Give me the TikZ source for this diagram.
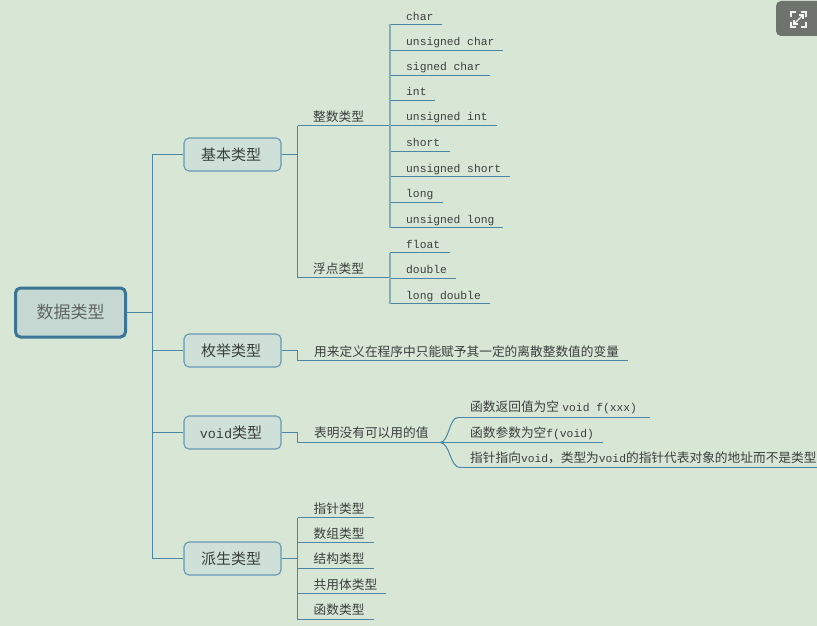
\documentclass[tikz,border=0pt]{standalone}
\usepackage{fontspec}
\setmonofont{Liberation Mono}
\newfontfamily\cjk{Noto Sans CJK SC}
\newcommand{\cn}[1]{{\cjk\fontsize{12.7}{15}\selectfont #1}}
\newcommand{\la}[1]{{\ttfamily\fontsize{11.3}{15}\selectfont #1}}
\definecolor{bgc}{HTML}{D8E6D6}
\definecolor{linec}{HTML}{4A87A6}
\definecolor{trunkc}{HTML}{86AEB5}
\definecolor{boxc}{HTML}{CEE0D7}
\definecolor{rootf}{HTML}{C5D9D2}
\definecolor{rootd}{HTML}{3B7596}
\definecolor{txtc}{HTML}{3A3F3C}
\definecolor{iconc}{HTML}{6E736D}
\tikzset{
  x=1pt,y=-1pt,
  wire/.style={draw=linec,line width=1pt},
  trunk/.style={draw=trunkc,line width=1.8pt},
  label/.style={inner sep=0pt,anchor=base west,text=txtc},
  topic/.style={draw=linec!85,line width=1.1pt,fill=boxc,rounded corners=5pt,minimum width=97pt,minimum height=33pt,inner sep=0pt,text=txtc,font=\cjk\fontsize{15}{18}\selectfont,execute at end node=\kern3pt},
  rootbox/.style={draw=rootd,line width=3pt,fill=rootf,rounded corners=5pt,minimum width=110pt,minimum height=49pt,inner sep=0pt,text=txtc!80,font=\cjk\fontsize{17}{20}\selectfont},
}
% name, start x, rule y, end x, text x, baseline offset, text
\newcommand{\leaf}[7]{%
  \coordinate (#1-a) at (#2,#3);
  \coordinate (#1-b) at (#4,#3);
  \node[label] (#1) at (#5,#3-#6) {#7};
  \draw[wire] (#1-a) -- (#1-b);
}
\begin{document}
\begin{tikzpicture}
\useasboundingbox (0,0) rectangle (817,626);
\fill[bgc] (0,0) rectangle (817,626);

% expand badge
\fill[iconc,rounded corners=5pt] (776,1) rectangle (830,36);
\begin{scope}[draw=white,line width=1.2pt,opacity=.9]
  \draw (791,17) -- (791,12) -- (796,12);
  \draw (801,12) -- (806,12) -- (806,17);
  \draw (806,22) -- (806,27) -- (801,27);
  \draw (796,27) -- (791,27) -- (791,22);
  \draw (794,24) -- (803,15);
  \draw (799,15) -- (803,15) -- (803,19);
  \draw (794,20) -- (794,24) -- (798,24);
\end{scope}

% main nodes
\node[rootbox,execute at end node={}] (root) at (70.5,312.5) {数据类型};
\node[topic] (basic) at (232.5,154.5) {基本类型};
\node[topic] (enum) at (232.5,350.5) {枚举类型};
\node[topic] (void) at (232.5,432.5) {{\ttfamily\fontsize{13.5}{18}\selectfont void}类型};
\node[topic] (derived) at (232.5,558.5) {派生类型};

% root connectors
\coordinate (bus) at (152.5,312.5);
\draw[wire] (root.east) -- (bus);
\draw[wire] (basic.west) -| (bus);
\draw[wire] (enum.west) -| (bus);
\draw[wire] (void.west) -| (bus);
\draw[wire] (derived.west) -| (bus);

% basic type
\coordinate (bj) at (297.5,154.5);
\draw[wire] (basic.east) -- (bj);
\leaf{int-t}{297.5}{125.5}{390}{313}{3.8}{\cn{整数类型}}
\leaf{flt-t}{297.5}{277.5}{390}{313}{3.8}{\cn{浮点类型}}
\draw[wire] (int-t-a) -- (flt-t-a);

\leaf{l1}{390}{24.5}{442}{406}{4.2}{\la{char}}
\leaf{l2}{390}{50.5}{503}{406}{5}{\la{unsigned char}}
\leaf{l3}{390}{75.5}{490}{406}{4.7}{\la{signed char}}
\leaf{l4}{390}{100.5}{435}{406}{4.7}{\la{int}}
\leaf{l5}{390}{125.5}{497}{406}{4.5}{\la{unsigned int}}
\leaf{l6}{390}{151.5}{450}{406}{4.7}{\la{short}}
\leaf{l7}{390}{176.5}{510}{406}{4.3}{\la{unsigned short}}
\leaf{l8}{390}{202.5}{443}{406}{4.7}{\la{long}}
\leaf{l9}{390}{227.5}{503}{406}{4.3}{\la{unsigned long}}
\draw[trunk] (l1-a) -- (l9-a);

\leaf{f1}{390}{252.5}{450}{406}{4.5}{\la{float}}
\leaf{f2}{390}{278.5}{456}{406}{5}{\la{double}}
\leaf{f3}{390}{303.5}{490}{406}{4.5}{\la{long double}}
\draw[trunk] (f1-a) -- (f3-a);

% enum
\leaf{e1}{297.5}{360.5}{628}{314}{4.5}{\cn{用来定义在程序中只能赋予其一定的离散整数值的变量}}
\draw[wire] (enum.east) -| (e1-a);

% void
\leaf{v0}{297.5}{442.5}{440}{314}{5.5}{\cn{表明没有可以用的值}}
\draw[wire] (void.east) -| (v0-a);
\leaf{v1}{458}{417.5}{650}{470}{6}{\cn{函数返回值为空} \la{void f(xxx)}}
\leaf{v2}{440}{442.5}{603}{470}{5.5}{\cn{函数参数为空}\la{f(void)}}
\leaf{v3}{460}{467.5}{817}{470}{5.5}{\cn{指针指向}\la{void}\cn{，类型为}\la{void}\cn{的指针代表对象的地址而不是类型}}
\draw[wire] (v0-b) .. controls (449,442.5) and (449,417.5) .. (v1-a);
\draw[wire] (v0-b) .. controls (450,442.5) and (450,467.5) .. (v3-a);

% derived
\coordinate (dj) at (297.5,558.5);
\draw[wire] (derived.east) -- (dj);
\leaf{d1}{297.5}{517.5}{374}{313.5}{4.5}{\cn{指针类型}}
\leaf{d2}{297.5}{542.5}{374}{313.5}{4.5}{\cn{数组类型}}
\leaf{d3}{297.5}{568.5}{374}{313.5}{5}{\cn{结构类型}}
\leaf{d4}{297.5}{593.5}{386}{313.5}{4.5}{\cn{共用体类型}}
\leaf{d5}{297.5}{619.5}{374}{313.5}{5}{\cn{函数类型}}
\draw[wire] (d1-a) -- (d5-a);
\end{tikzpicture}
\end{document}
